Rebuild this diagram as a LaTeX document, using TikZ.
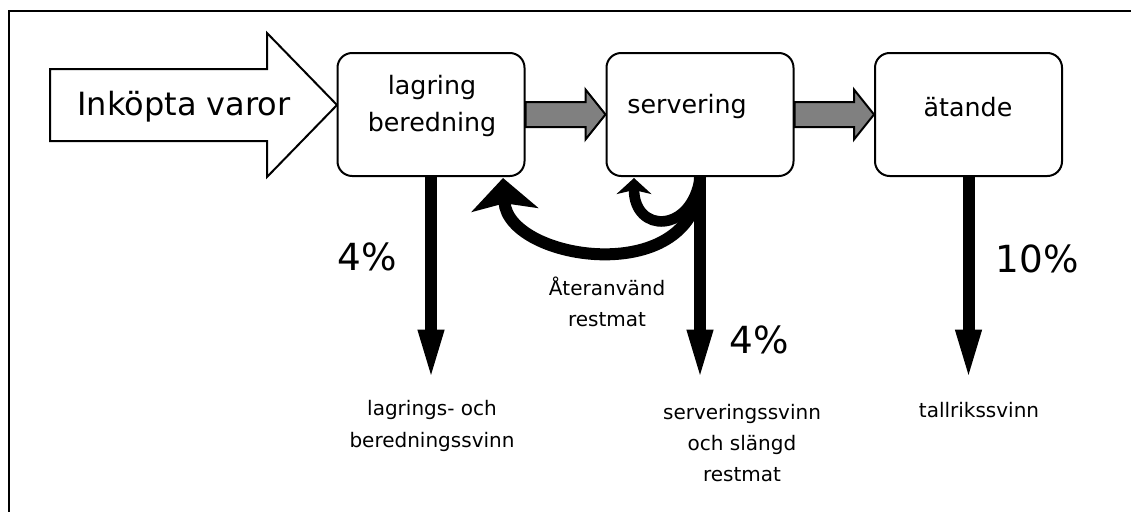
\documentclass[tikz,border=0pt]{standalone}
\usepackage{fontspec}
\setmainfont{DejaVu Sans}
\usetikzlibrary{arrows.meta,calc}
\definecolor{flowgray}{RGB}{128,128,128}

\tikzset{
  stage/.style={draw, line width=1.5pt, rounded corners=11pt, fill=white,
    minimum width=140.25pt, minimum height=92.25pt, inner sep=0pt},
  stagetext/.style={align=center, font=\fontsize{19}{27.5}\selectfont},
  blockarrow/.style={draw, line width=1.5pt, fill=flowgray, line join=miter},
  lossarrow/.style={line width=9pt, -{Triangle[length=40pt,width=17pt]}},
  returnarrow/.style={line width=9pt, -{Stealth[length=24pt,width=50pt,inset=5pt]}},
  pct/.style={font=\fontsize{28}{34}\selectfont},
  losstext/.style={align=center, font=\fontsize{15}{23.5}\selectfont},
}

\begin{document}
\begin{tikzpicture}[x=0.75pt,y=0.75pt,yscale=-1,xscale=1]
\useasboundingbox (0,0) rectangle (1131,511);

%frame, only top and left edge inside the picture
\draw[line width=1.5pt] (9,530) -- (9,11) -- (1150,11);

%big input arrow
\draw[line width=1.5pt, fill=white, line join=miter] (50,69) -- (267,69) -- (267,33) -- (337,105) -- (267,177) -- (267,141) -- (50,141) -- cycle;
\node[font=\fontsize{24}{28}\selectfont] (inkop) at (184,107) {Inköpta varor};

%stages
\node[stage] (lager) at (431,114.5) {};
\node[stage] (serv) at (700,114.5) {};
\node[stage] (atande) at (968.5,114.5) {};

\node[stagetext] (lagertxt) at (432,106) {lagring\\beredning};
\node[stagetext] (servtxt) at (687,107) {servering};
\node[stagetext] (atandetxt) at (968,107) {ätande};

%gray flow arrows between stages
\draw[blockarrow] ($(lager.east)+(0,-12.5)$) -- ($(serv.west)+(-20,-12.5)$) -- ($(serv.west)+(-20,-25)$) -- (serv.west) -- ($(serv.west)+(-20,25)$) -- ($(serv.west)+(-20,12.5)$) -- ($(lager.east)+(0,12.5)$) -- cycle;
\draw[blockarrow] ($(serv.east)+(0,-12.5)$) -- ($(atande.west)+(-20,-12.5)$) -- ($(atande.west)+(-20,-25)$) -- (atande.west) -- ($(atande.west)+(-20,25)$) -- ($(atande.west)+(-20,12.5)$) -- ($(serv.east)+(0,12.5)$) -- cycle;

%losses
\coordinate (lagerend) at (431,383);
\coordinate (servend) at (700,383);
\coordinate (atandeend) at (968.5,383);
\draw[lossarrow] (lager.south) -- (lagerend);
\draw[lossarrow] (serv.south) -- (servend);
\draw[lossarrow] (atande.south) -- (atandeend);

%reused leftovers
\coordinate (retlager) at (503,178);
\coordinate (retserv) at (634,178);
\draw[returnarrow] (serv.south) .. controls (700,290) and (508,262) .. (retlager);
\draw[returnarrow, line width=8pt, -{Stealth[length=12pt,width=26pt,inset=3pt]}] (serv.south) .. controls (692,234) and (634,234) .. (retserv);

%labels
\node[pct] (pctlager) at (367,257) {4\%};
\node[pct] (pctserv) at (759,340) {4\%};
\node[pct] (pctatande) at (1037,259) {10\%};
\node[losstext] (restmat) at (607,302) {Återanvänd\\restmat};
\node[losstext] (lagerloss) at (432,426) {lagrings- och\\beredningssvinn};
\node[losstext] (servloss) at (742,443) {serveringssvinn\\och slängd\\restmat};
\node[losstext] (atandeloss) at (979,410) {tallrikssvinn};

\end{tikzpicture}
\end{document}
